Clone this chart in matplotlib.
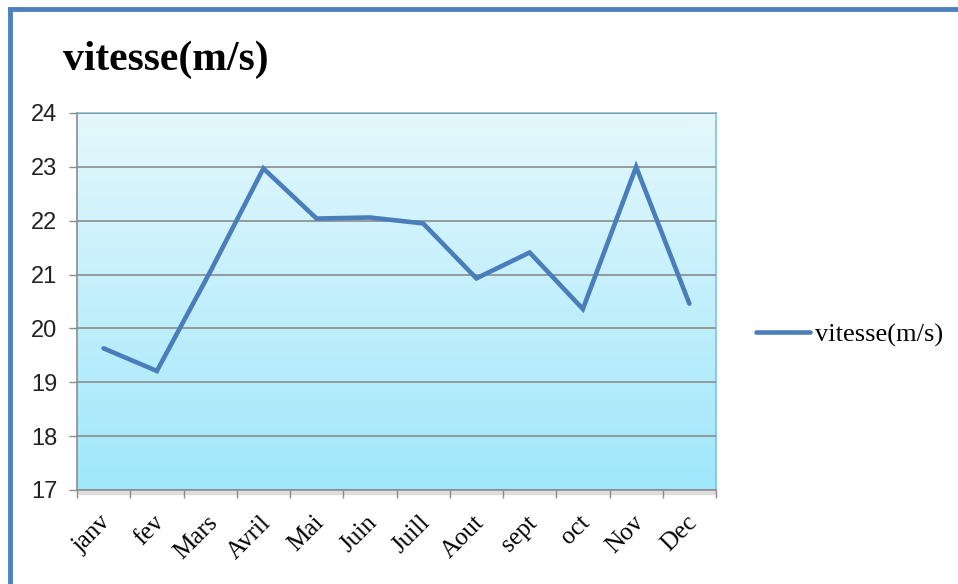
import numpy as np
import matplotlib.pyplot as plt
from matplotlib.colors import LinearSegmentedColormap
from matplotlib.patches import Rectangle

mois = ['janv', 'fev', 'Mars', 'Avril', 'Mai', 'Juin', 'Juill', 'Aout',
        'sept', 'oct', 'Nov', 'Dec']
vitesse = [19.63, 19.21, 21.05, 22.97, 22.04, 22.06, 21.95, 20.93,
           21.41, 20.36, 23.0, 20.46]
yticks = [17, 18, 19, 20, 21, 22, 23, 24]

fig = plt.figure(figsize=(9.58, 5.84), dpi=100)
ax = fig.add_axes([77/958, 1-490/584, 639/958, 377/584])

# fond en degrade
cmap = LinearSegmentedColormap.from_list('bg', ['#a0e7fb', '#e4f8fd'])
grad = np.linspace(0, 1, 256).reshape(-1, 1)
ax.imshow(grad, cmap=cmap, origin='lower', aspect='auto',
          extent=[0, 1, 0, 1], transform=ax.transAxes, zorder=0)

x = np.arange(len(mois))
ax.plot(x, vitesse, color='#4a7ebb', lw=3.3, solid_capstyle='round',
        solid_joinstyle='miter', zorder=3, label='vitesse(m/s)')

ax.set_xlim(-0.5, len(mois) - 0.5)
ax.set_ylim(17, 24)
ax.set_yticks(yticks)
ax.set_yticklabels([str(v) for v in yticks], fontsize=17,
                   family='Liberation Sans', color='#222222')
ax.set_xticks(np.append(x - 0.5, len(mois) - 0.5))
ax.set_xticklabels([''] * (len(mois) + 1))
for i, m in enumerate(mois):
    ax.text(i + 0.22, 16.6, m, rotation=45, ha='right', va='top',
            fontsize=18, family='Liberation Serif')

ax.grid(axis='y', color='#8c8c8c', lw=1.2, zorder=1)
ax.set_axisbelow(False)
for s in ['top', 'right']:
    ax.spines[s].set_color('#7cc6da')
    ax.spines[s].set_linewidth(1.2)
for s in ['left', 'bottom']:
    ax.spines[s].set_color('#8c8c8c')
    ax.spines[s].set_linewidth(1.2)
ax.tick_params(axis='both', color='#8c8c8c', length=6, width=1.0)
ax.tick_params(axis='y', pad=8)

# ombre sous le cadre
fig.patches.append(Rectangle((77/958, 1-494/584), 639/958, 3/584,
                             transform=fig.transFigure, color='#dddddd',
                             zorder=-1))

fig.text(63/958, 1-60/584, 'vitesse(m/s)', fontsize=30, fontweight='bold',
         family='Liberation Serif', va='center', ha='left')

leg = ax.legend(loc='center left', bbox_to_anchor=(756/958, 1-335/584),
                bbox_transform=fig.transFigure, borderpad=0, borderaxespad=0,
                frameon=False, handlelength=2.05, handletextpad=0.2,
                prop={'family': 'Liberation Serif', 'size': 19})

# cadre bleu de la figure
fig.add_artist(plt.Line2D([10/958, 10/958], [0, 1-9/584],
                          transform=fig.transFigure, color='#4f81bd', lw=3.5))
fig.add_artist(plt.Line2D([10/958, 1], [1-9/584, 1-9/584],
                          transform=fig.transFigure, color='#4f81bd', lw=3.5))

fig.savefig('out.png', dpi=100)
